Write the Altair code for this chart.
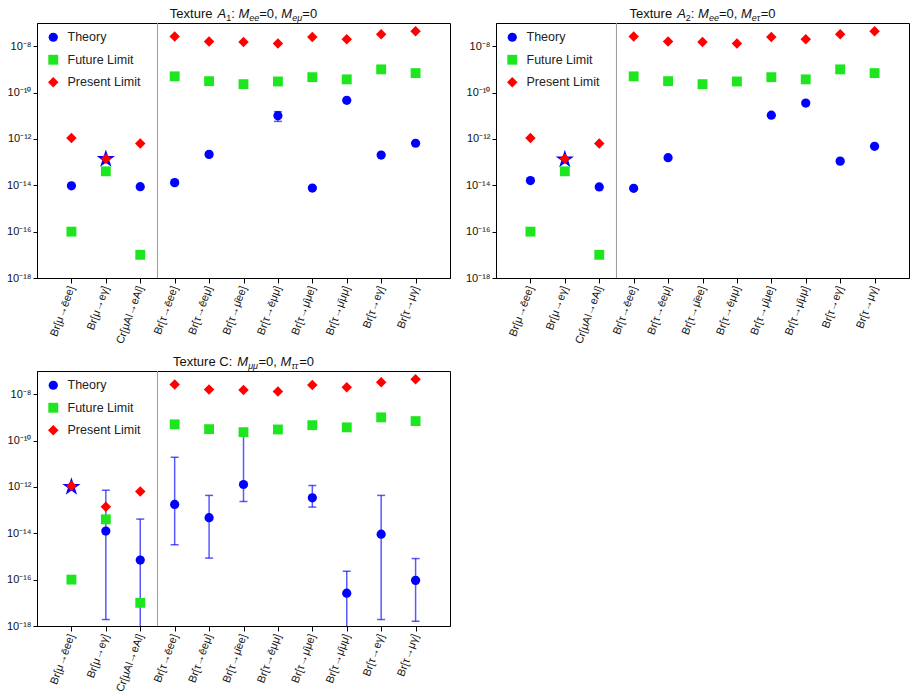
import json
import altair as alt
import pandas as pd

FONT = "Liberation Sans"

# ---------------- data ----------------
CATEGORIES = ["Br[μ→ēee]", "Br[μ→eγ]", "Cr[μAl→eAl]", "Br[τ→ēee]", "Br[τ→ēeμ]",
              "Br[τ→μ̄ee]", "Br[τ→ēμμ]", "Br[τ→μ̄μe]", "Br[τ→μ̄μμ]", "Br[τ→eγ]", "Br[τ→μγ]"]
POSITIONS = list(range(1, 12))

SERIES = ["Theory", "Future Limit", "Present Limit"]
SERIES_COLORS = ["#0000ff", "#1ee61e", "#ff0000"]
SERIES_SHAPES = ["circle", "square", "diamond"]
SERIES_SIZES = [85, 110, 100]

PRESENT_LIMIT = [1.1e-12, 1.4e-13, 6.3e-13, 2.6e-8, 1.6e-8, 1.5e-8, 1.3e-8, 2.5e-8, 2.0e-8, 3.3e-8, 4.4e-8]
FUTURE_LIMIT = [1.0e-16, 4.0e-14, 1.0e-17, 5.0e-10, 3.1e-10, 2.3e-10, 3.0e-10, 4.6e-10, 3.7e-10, 1.0e-9, 6.9e-10]

A1_THEORY = [9.5e-15, None, 8.7e-15, 1.3e-14, 2.15e-13, None, 1.0e-11, 7.6e-15, 4.6e-11, 2.0e-13, 6.5e-13]
A1_LOW = [None, None, None, 1.15e-14, None, None, 5.7e-12, 6.8e-15, None, 1.8e-13, None]
A1_HIGH = [None, None, None, 1.45e-14, None, None, 1.5e-11, 8.5e-15, None, 2.2e-13, None]
A1_STAR_POS = [2]
A1_STAR_VALUE = [1.35e-13]

A2_THEORY = [1.6e-14, None, 8.5e-15, 7.4e-15, 1.55e-13, None, None, 1.06e-11, 3.5e-11, 1.1e-13, 4.8e-13]
A2_LOW = [None, None, None, 6.7e-15, None, None, None, None, 3.0e-11, 1.0e-13, None]
A2_HIGH = [None, None, None, 8.2e-15, None, None, None, None, 4.0e-11, 1.2e-13, None]
A2_STAR_POS = [2]
A2_STAR_VALUE = [1.3e-13]

C_THEORY = [None, 1.25e-14, 7.0e-16, 1.75e-13, 4.7e-14, 1.27e-12, None, 3.4e-13, 2.6e-17, 9.1e-15, 9.3e-17]
C_LOW = [None, 1.9e-18, 1.0e-19, 3.2e-15, 8.5e-16, 2.35e-13, None, 1.35e-13, 1.0e-19, 1.9e-18, 1.6e-18]
C_HIGH = [None, 7.2e-13, 4.1e-14, 1.9e-11, 4.3e-13, 2.2e-10, None, 1.15e-12, 2.3e-16, 4.3e-13, 8.1e-16]
C_STAR_POS = [1]
C_STAR_VALUE = [1.0e-12]

Y_TICKS = [1e-18, 1e-16, 1e-14, 1e-12, 1e-10, 1e-8]
Y_TICK_LABELS = ["10⁻¹⁸", "10⁻¹⁶", "10⁻¹⁴", "10⁻¹²", "10⁻¹⁰", "10⁻⁸"]
Y_DOMAIN = [1e-18, 1e-7]
X_DOMAIN = [0, 12]
SEPARATOR = [3.5]

TITLE_A1 = [("Texture ", "n"), ("A", "i"), ("1", "s"), (": ", "n"), ("M", "i"), ("ee", "si"),
            ("=0, ", "n"), ("M", "i"), ("eμ", "si"), ("=0", "n")]
TITLE_A2 = [("Texture ", "n"), ("A", "i"), ("2", "s"), (": ", "n"), ("M", "i"), ("ee", "si"),
            ("=0, ", "n"), ("M", "i"), ("eτ", "si"), ("=0", "n")]
TITLE_C = [("Texture C: ", "n"), ("M", "i"), ("μμ", "si"), ("=0, ", "n"), ("M", "i"), ("ττ", "si"),
           ("=0", "n")]

# ---------------- layout / style ----------------
W, H = 413, 255
TITLE_SIZE = 13
SUB_SIZE = 9
CHAR_W = {"T": 611, "e": 556, "x": 500, "t": 278, "u": 556, "r": 333, " ": 278, "A": 667,
          "1": 556, "2": 556, ":": 278, "M": 833, "=": 584, "0": 556, ",": 278, "C": 722,
          "μ": 576, "τ": 433}
KIND_STYLE = {"n": (TITLE_SIZE, "normal", 0), "i": (TITLE_SIZE, "italic", 0),
              "s": (SUB_SIZE, "normal", 3), "si": (SUB_SIZE, "italic", 3)}

STAR_PATH = ("M0,-1L0.2245,-0.309L0.951,-0.309L0.363,0.118L0.588,0.809L0,0.382"
             "L-0.588,0.809L-0.363,0.118L-0.951,-0.309L-0.2245,-0.309Z")

x_label_expr = json.dumps(CATEGORIES, ensure_ascii=False) + "[round(datum.value) - 1]"
y_label_expr = json.dumps(Y_TICK_LABELS, ensure_ascii=False) + "[round(log(datum.value) / LN10 / 2) + 9]"

XSCALE = alt.Scale(domain=X_DOMAIN, nice=False, zero=False)
YSCALE = alt.Scale(type="log", domain=Y_DOMAIN, nice=False)
XAXIS = alt.Axis(values=POSITIONS, labelExpr=x_label_expr, labelAngle=290, labelAlign="right",
                 labelBaseline="middle", labelFontSize=11, labelPadding=3, tickSize=5,
                 title=None, grid=False, labelFont=FONT)
YAXIS = alt.Axis(values=Y_TICKS, labelExpr=y_label_expr, labelFontSize=11, tickSize=4,
                 labelPadding=2, title=None, grid=False, labelFont=FONT)


def X(field):
    return alt.X(field, type="quantitative", scale=XSCALE, axis=XAXIS)


def Y(field):
    return alt.Y(field, type="quantitative", scale=YSCALE, axis=YAXIS)


def title_layers(pieces):
    widths = []
    for text, kind in pieces:
        size = KIND_STYLE[kind][0]
        widths.append(sum(CHAR_W.get(ch, 556) for ch in text) * size / 1000.0)
    total = sum(widths)
    start = W / 2 - total / 2
    rows = []
    cur = start
    for (text, kind), w in zip(pieces, widths):
        rows.append({"text": text, "kind": kind, "tx": cur * (X_DOMAIN[1] - X_DOMAIN[0]) / W})
        cur += w
    df = pd.DataFrame(rows)
    layers = []
    for kind, (size, style, dy) in KIND_STYLE.items():
        sub = df[df["kind"] == kind]
        if len(sub) == 0:
            continue
        layers.append(
            alt.Chart(sub).mark_text(align="left", baseline="alphabetic", fontSize=size,
                                     fontStyle=style, dy=dy, font=FONT, color="#111")
            .encode(x=X("tx"), y=alt.value(-5.5), text="text:N")
        )
    return layers


def panel(theory, low, high, star_pos, star_val, title):
    rows = []
    for p, v in zip(POSITIONS, theory):
        if v is not None:
            rows.append({"pos": p, "series": "Theory", "value": v})
    for p, v in zip(POSITIONS, FUTURE_LIMIT):
        rows.append({"pos": p, "series": "Future Limit", "value": v})
    for p, v in zip(POSITIONS, PRESENT_LIMIT):
        rows.append({"pos": p, "series": "Present Limit", "value": v})
    pts = pd.DataFrame(rows)

    err = pd.DataFrame([{"pos": p, "lo": lo, "hi": hi}
                        for p, lo, hi in zip(POSITIONS, low, high) if lo is not None])
    star = pd.DataFrame({"pos": star_pos, "value": star_val})
    sep = pd.DataFrame({"x": SEPARATOR})

    sep_layer = alt.Chart(sep).mark_rule(color="#999999", strokeWidth=1).encode(x=X("x"))
    err_rule = alt.Chart(err).mark_rule(color="#0000ff", opacity=0.65, strokeWidth=1.5, clip=True).encode(
        x=X("pos"), y=Y("lo"), y2="hi:Q")
    cap_lo = alt.Chart(err).mark_tick(orient="horizontal", size=8, thickness=1.5, color="#0000ff",
                                      opacity=0.65, clip=True).encode(x=X("pos"), y=Y("lo"))
    cap_hi = alt.Chart(err).mark_tick(orient="horizontal", size=8, thickness=1.5, color="#0000ff",
                                      opacity=0.65, clip=True).encode(x=X("pos"), y=Y("hi"))
    star_layer = alt.Chart(star).mark_point(shape=STAR_PATH, filled=True, color="#0000ff", opacity=1,
                                            size=370).encode(x=X("pos"), y=Y("value"))
    legend = alt.Legend(orient="none", legendX=10, legendY=8, title=None, labelFontSize=12.5,
                        labelFont=FONT, labelColor="#222", symbolSize=100, symbolStrokeWidth=0,
                        rowPadding=9.5, labelOffset=8, padding=0)
    pt_layer = alt.Chart(pts).mark_point(filled=True, opacity=1).encode(
        x=X("pos"), y=Y("value"),
        color=alt.Color("series:N", scale=alt.Scale(domain=SERIES, range=SERIES_COLORS), legend=legend),
        shape=alt.Shape("series:N", scale=alt.Scale(domain=SERIES, range=SERIES_SHAPES), legend=legend),
        size=alt.Size("series:O", scale=alt.Scale(domain=SERIES, range=SERIES_SIZES), legend=None),
    )
    layers = [sep_layer, err_rule, cap_lo, cap_hi, star_layer, pt_layer] + title_layers(title)
    return alt.layer(*layers).properties(width=W, height=H)


a1 = panel(A1_THEORY, A1_LOW, A1_HIGH, A1_STAR_POS, A1_STAR_VALUE, TITLE_A1)
a2 = panel(A2_THEORY, A2_LOW, A2_HIGH, A2_STAR_POS, A2_STAR_VALUE, TITLE_A2)
c = panel(C_THEORY, C_LOW, C_HIGH, C_STAR_POS, C_STAR_VALUE, TITLE_C)

top = alt.hconcat(a1, a2, spacing=13).resolve_legend(color="independent", shape="independent", size="independent") \
    .resolve_scale(color="independent", shape="independent", size="independent")
chart = alt.vconcat(top, c, spacing=9).resolve_legend(color="independent", shape="independent", size="independent") \
    .resolve_scale(color="independent", shape="independent", size="independent") \
    .properties(padding={"left": 5, "top": 7, "right": 0, "bottom": 0}, background="white") \
    .configure_view(stroke="#000000", strokeWidth=1) \
    .configure_axis(domainColor="#000000", tickColor="#000000", labelColor="#111111")

chart.save("out.html", embed_options={"renderer": "svg", "actions": False})
